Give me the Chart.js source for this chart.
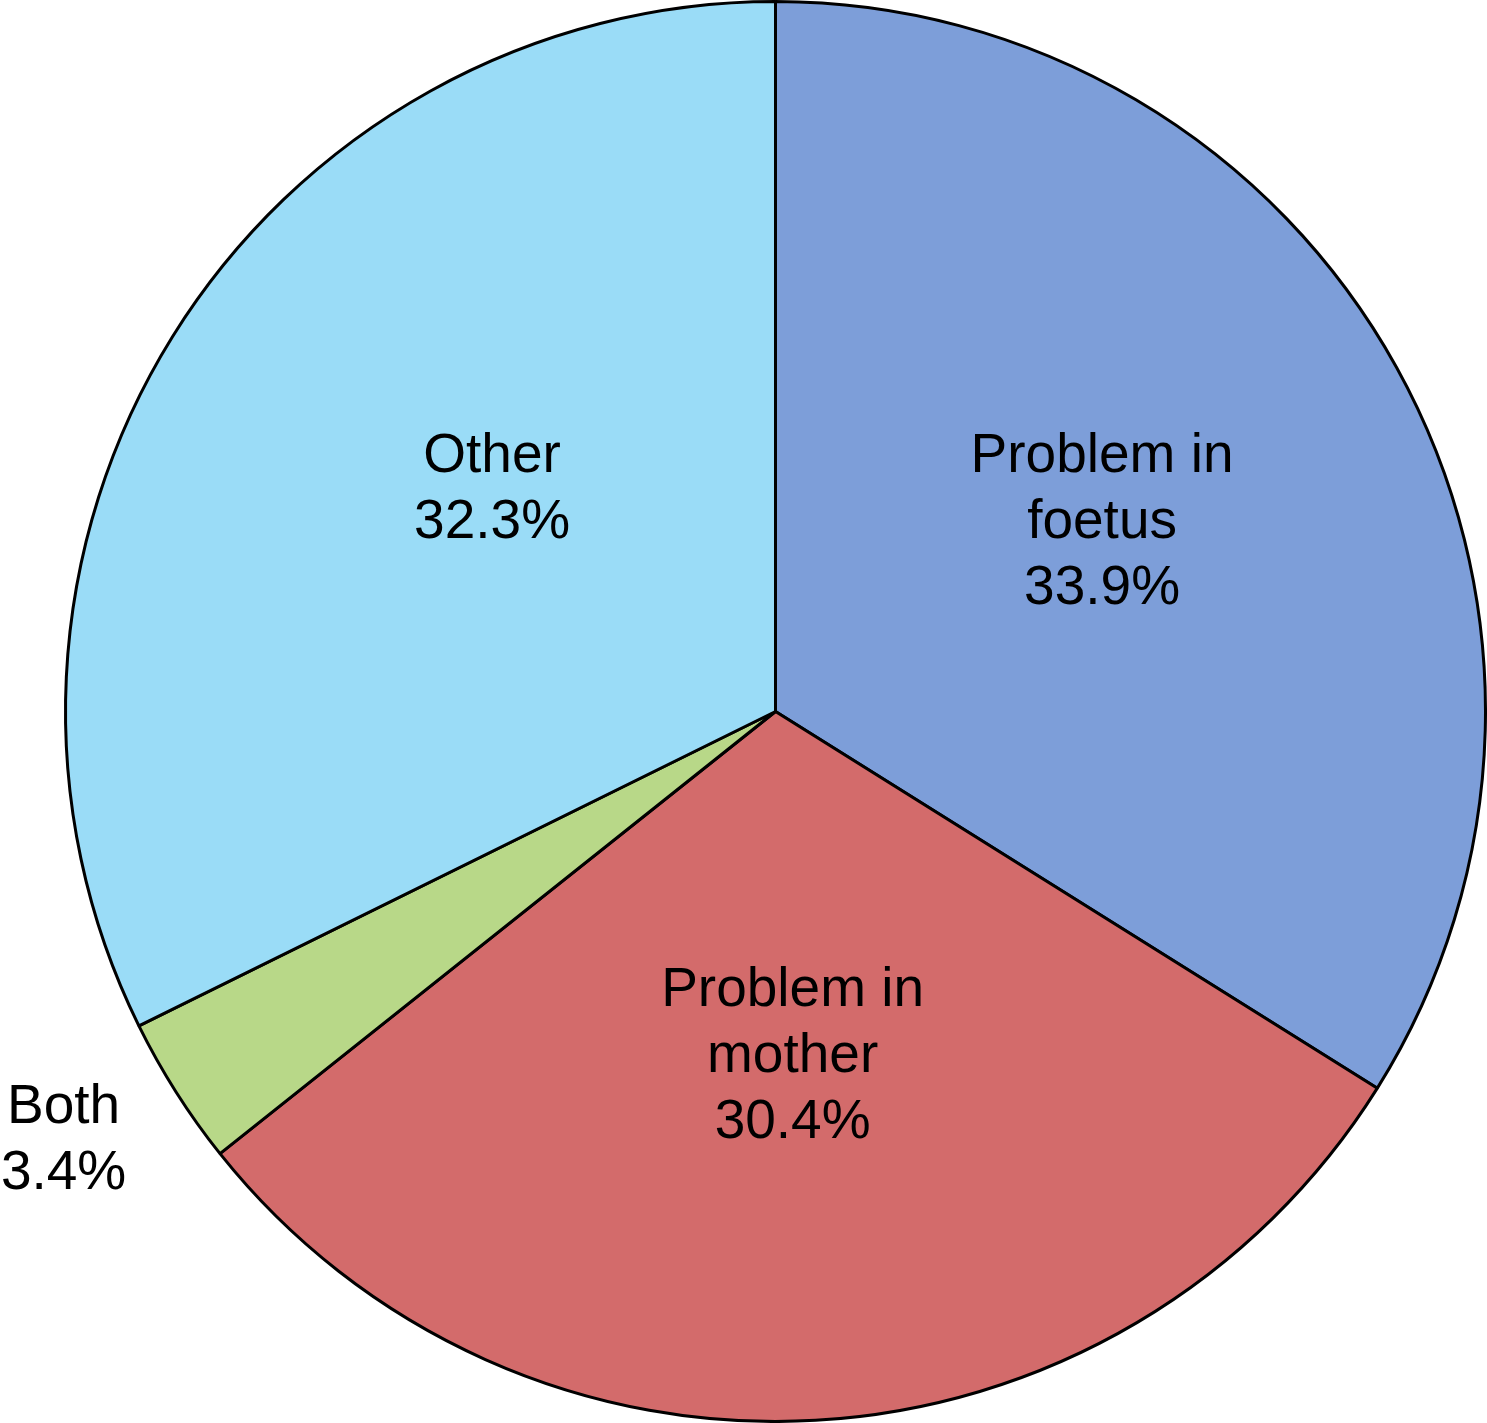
<!DOCTYPE html>
<html>
<head>
<meta charset="utf-8">
<script src="https://cdn.jsdelivr.net/npm/chart.js@4/dist/chart.umd.min.js"></script>
<style>
  html, body { margin: 0; padding: 0; background: #ffffff; }
  #wrap { width: 1487px; height: 1423px; }
</style>
</head>
<body>
<div id="wrap"><canvas id="chart" width="1487" height="1423"></canvas></div>
<script>
const categories = ['Problem in foetus', 'Problem in mother', 'Both', 'Other'];
const labelLines = [['Problem in', 'foetus'], ['Problem in', 'mother'], ['Both'], ['Other']];
const shares = [33.9, 30.4, 3.4, 32.3];
const sliceColors = ['#7d9ed9', '#d36b6b', '#b8d888', '#9adcf7'];
// where the text sits: fraction of radius, and turn (deg) away from slice middle
const labelRadius = [0.531, 0.487, 1.171, 0.507];
const labelTurn = [-1.0, 0.4, 1.3, 6.2];

const ctx = document.getElementById('chart').getContext('2d');

const sliceLabels = {
    id: 'sliceLabels',
    afterDatasetsDraw(chart) {
        const c = chart.ctx;
        const arcs = chart.getDatasetMeta(0).data;
        c.save();
        c.font = '55px "Liberation Sans", Arial, Helvetica, sans-serif';
        c.fillStyle = '#000000';
        c.textAlign = 'center';
        c.textBaseline = 'middle';
        arcs.forEach((arc, i) => {
            const mid = (arc.startAngle + arc.endAngle) / 2 + labelTurn[i] * Math.PI / 180;
            const r = arc.outerRadius * labelRadius[i];
            const x = arc.x + Math.cos(mid) * r;
            const y = arc.y + Math.sin(mid) * r;
            const lines = labelLines[i].concat([shares[i].toFixed(1) + '%']);
            const lineH = 66;
            const top = y - (lines.length - 1) * lineH / 2;
            lines.forEach((t, k) => c.fillText(t, x, top + k * lineH));
        });
        c.restore();
    }
};

const chart = new Chart(ctx, {
    type: 'pie',
    data: {
        labels: categories,
        datasets: [{
            data: shares,
            backgroundColor: sliceColors,
            borderColor: '#000000',
            borderWidth: 3,
            borderAlign: 'center'
        }]
    },
    options: {
        responsive: false,
        animation: false,
        layout: { padding: { left: 64, right: 0, top: 0, bottom: 0 } },
        plugins: {
            legend: { display: false },
            tooltip: { enabled: false }
        }
    },
    plugins: [sliceLabels]
});
</script>
</body>
</html>
